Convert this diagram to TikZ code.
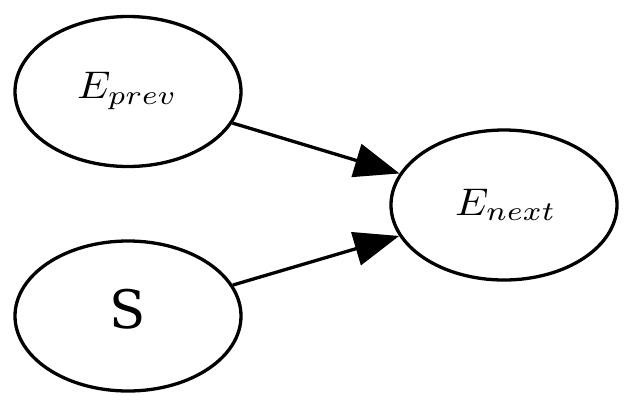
\documentclass[tikz,border=0pt]{standalone}
\usepackage{fontspec}
\usepackage{graphicx}
\usetikzlibrary{shapes.geometric,arrows.meta}
\newfontfamily\dvserif{DejaVu Serif}
\begin{document}
\begin{tikzpicture}[x=1pt,y=-1pt,
  ell/.style={draw,ellipse,line width=3.3pt,minimum width=226pt,minimum height=150pt,inner sep=0pt},
  txt/.style={inner sep=0pt,outer sep=0pt},
  conn/.style={line width=3.3pt,-{Triangle[length=45pt,width=34pt]}}]
\useasboundingbox (0,0) rectangle (633,408);
\node[ell] (prev) at (128,91.5) {};
\node[ell] (s) at (128,316) {};
\node[ell] (next) at (504,205) {};
\node[txt,anchor=base west] (prevtxt) at (77,98.5) {\scalebox{4.2}[3.85]{$E_{prev}$}};
\node[txt,anchor=base] (stxt) at (127.5,328) {\dvserif\fontsize{53}{55}\selectfont S};
\node[txt,anchor=base west] (nexttxt) at (455,215) {\scalebox{4.2}[3.85]{$E_{next}$}};
\draw[conn] (prev) -- (next);
\draw[conn] (s) -- (next);
\end{tikzpicture}
\end{document}
